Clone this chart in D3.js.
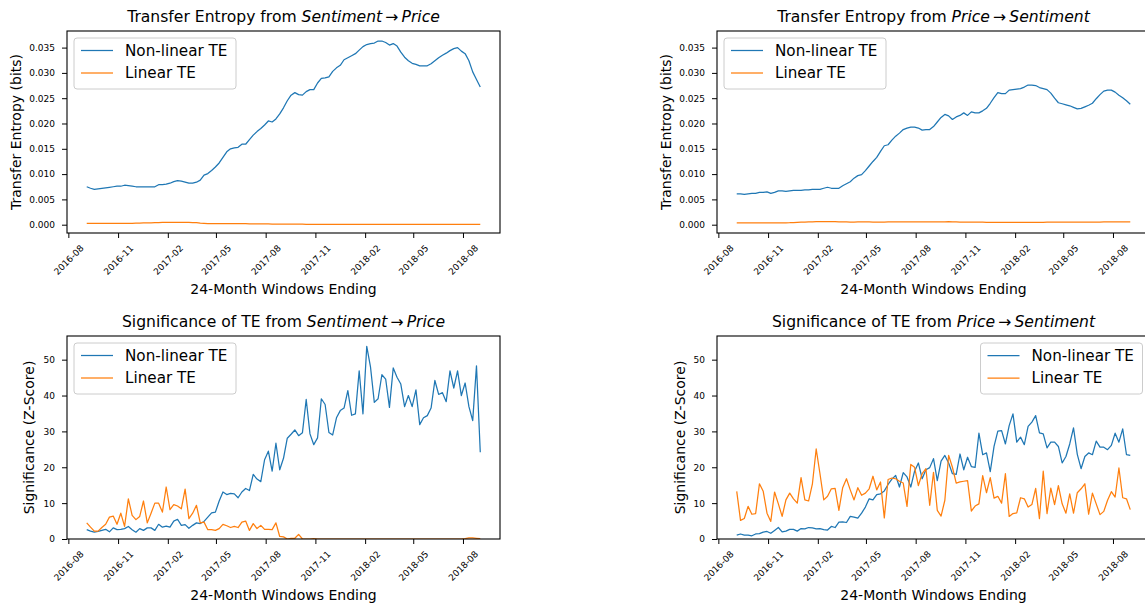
<!DOCTYPE html>
<html>
<head>
<meta charset="utf-8">
<script src="https://cdn.jsdelivr.net/npm/d3@7"></script>
<style>
  body { margin: 0; background: #fff; }
  svg { font-family: "DejaVu Sans", sans-serif; }
  .domain { display: none; }
  .tick line { stroke: #000; stroke-width: 1; }
</style>
</head>
<body>
<div id="chart"></div>
<script>
// weekly windows, first one ending 2016-09-04
var firstWindow = new Date(2016, 8, 4);
var nWeeks = 105;

var teNonlinSP = [0.0075,0.0072,0.0070,0.0071,0.0072,0.0073,0.0074,0.0075,0.0076,0.0076,
  0.0078,0.0077,0.0076,0.0075,0.0075,0.0075,0.0075,0.0075,0.0075,0.0079,
  0.0079,0.0080,0.0082,0.0085,0.0087,0.0086,0.0084,0.0082,0.0082,0.0084,
  0.0088,0.0098,0.0101,0.0107,0.0114,0.0122,0.0133,0.0144,0.0150,0.0152,
  0.0153,0.0159,0.0159,0.0168,0.0177,0.0184,0.0190,0.0197,0.0205,0.0203,
  0.0209,0.0219,0.0231,0.0245,0.0256,0.0261,0.0257,0.0256,0.0263,0.0267,
  0.0267,0.0280,0.0289,0.0290,0.0292,0.0303,0.0310,0.0315,0.0326,0.0330,
  0.0334,0.0338,0.0345,0.0352,0.0356,0.0358,0.0359,0.0363,0.0363,0.0360,
  0.0355,0.0358,0.0353,0.0341,0.0331,0.0324,0.0319,0.0317,0.0314,0.0314,
  0.0314,0.0318,0.0324,0.0330,0.0335,0.0339,0.0344,0.0348,0.0350,0.0343,
  0.0338,0.0324,0.0302,0.0287,0.0272];
var teLinSP = [0.00025,0.00025,0.00024,0.00025,0.00025,0.00026,0.00025,0.00025,0.00026,0.00026,
  0.00026,0.00026,0.00027,0.00030,0.00032,0.00034,0.00036,0.00038,0.00040,0.00042,
  0.00044,0.00045,0.00046,0.00046,0.00045,0.00045,0.00044,0.00044,0.00043,0.00040,
  0.00030,0.00026,0.00022,0.00021,0.00021,0.00020,0.00020,0.00020,0.00020,0.00020,
  0.00020,0.00019,0.00019,0.00018,0.00018,0.00017,0.00016,0.00015,0.00014,0.00013,
  0.00012,0.00011,0.00010,0.00010,0.00010,0.00009,0.00009,0.00009,0.00008,0.00008,
  0.00008,0.00008,0.00008,0.00008,0.00007,0.00007,0.00007,0.00007,0.00007,0.00007,
  0.00007,0.00007,0.00007,0.00007,0.00007,0.00007,0.00007,0.00007,0.00007,0.00007,
  0.00007,0.00007,0.00007,0.00007,0.00007,0.00007,0.00007,0.00007,0.00007,0.00007,
  0.00007,0.00007,0.00007,0.00007,0.00007,0.00007,0.00007,0.00007,0.00007,0.00007,
  0.00007,0.00007,0.00007,0.00007,0.00007];
var teNonlinPS = [0.0061,0.0061,0.0060,0.0061,0.0062,0.0062,0.0064,0.0064,0.0065,0.0062,
  0.0064,0.0067,0.0067,0.0066,0.0067,0.0068,0.0068,0.0068,0.0069,0.0069,
  0.0070,0.0070,0.0070,0.0072,0.0074,0.0072,0.0072,0.0072,0.0077,0.0081,
  0.0085,0.0092,0.0097,0.0099,0.0107,0.0116,0.0125,0.0133,0.0145,0.0156,
  0.0158,0.0167,0.0175,0.0181,0.0188,0.0191,0.0193,0.0193,0.0191,0.0187,
  0.0188,0.0188,0.0194,0.0203,0.0212,0.0218,0.0215,0.0208,0.0213,0.0216,
  0.0221,0.0216,0.0223,0.0221,0.0221,0.0225,0.0230,0.0240,0.0251,0.0261,
  0.0259,0.0259,0.0266,0.0267,0.0268,0.0269,0.0272,0.0276,0.0276,0.0275,
  0.0271,0.0269,0.0267,0.0260,0.0250,0.0241,0.0239,0.0237,0.0235,0.0232,
  0.0229,0.0230,0.0233,0.0236,0.0240,0.0249,0.0257,0.0264,0.0266,0.0266,
  0.0262,0.0256,0.0251,0.0245,0.0238];
var teLinPS = [0.00036,0.00036,0.00036,0.00037,0.00037,0.00037,0.00038,0.00038,0.00038,0.00038,
  0.00038,0.00038,0.00038,0.00038,0.00039,0.00042,0.00046,0.00050,0.00053,0.00056,
  0.00058,0.00059,0.00059,0.00059,0.00060,0.00060,0.00059,0.00058,0.00056,0.00054,
  0.00053,0.00053,0.00054,0.00055,0.00055,0.00054,0.00053,0.00052,0.00052,0.00053,
  0.00054,0.00055,0.00055,0.00055,0.00056,0.00057,0.00058,0.00058,0.00057,0.00056,
  0.00055,0.00054,0.00054,0.00055,0.00056,0.00058,0.00059,0.00058,0.00055,0.00053,
  0.00052,0.00052,0.00052,0.00051,0.00050,0.00049,0.00048,0.00047,0.00046,0.00046,
  0.00046,0.00046,0.00046,0.00046,0.00046,0.00046,0.00046,0.00046,0.00047,0.00047,
  0.00048,0.00048,0.00049,0.00049,0.00050,0.00050,0.00051,0.00051,0.00052,0.00052,
  0.00052,0.00051,0.00050,0.00049,0.00049,0.00050,0.00052,0.00054,0.00055,0.00056,
  0.00056,0.00056,0.00056,0.00056,0.00056];

var zNonlinSP = [2.6,2.2,1.9,2.1,2.4,2.7,2.0,3.1,2.6,2.7,
  2.9,3.5,2.6,1.9,2.9,2.4,3.1,3.1,2.4,4.1,
  3.3,3.6,3.3,5.0,5.5,3.8,4.0,3.0,3.8,4.5,
  4.3,4.9,6.1,7.3,7.5,10.6,13.1,12.4,12.7,12.6,
  11.5,13.1,14.1,13.5,18.0,16.7,16.0,22.1,24.5,18.9,
  26.7,19.3,22.5,28.1,29.2,30.4,28.8,29.6,38.9,29.3,
  26.3,28.2,39.1,37.5,29.7,29.0,33.8,35.8,36.5,41.4,
  34.5,34.9,46.9,34.9,53.7,47.9,38.1,39.1,45.8,44.6,
  36.7,47.7,45.1,43.2,36.9,40.0,36.9,41.6,31.9,33.8,
  34.4,36.5,44.2,40.3,40.8,38.3,46.9,42.1,46.9,40.0,
  43.5,36.9,33.0,48.3,24.2];
var zLinSP = [4.5,3.3,2.2,2.2,3.2,4.1,6.1,6.4,4.1,7.2,
  3.5,11.2,6.6,5.4,6.3,10.6,4.5,7.2,10.0,10.0,
  7.5,14.5,8.2,9.6,9.2,8.4,13.9,5.7,7.2,9.4,
  4.5,4.7,2.6,2.6,2.4,2.9,4.1,3.7,3.2,3.5,
  3.2,4.7,5.0,2.4,4.3,2.9,3.8,2.7,2.7,2.6,
  4.5,0.7,0.6,0.0,0.2,0.2,1.3,0.0,0.0,0.0,
  0.1,0.0,0.0,0.0,0.0,0.0,0.0,0.0,0.0,0.0,
  0.0,0.0,0.0,0.0,0.0,0.0,0.0,0.0,0.0,0.0,
  0.0,0.0,0.0,0.0,0.0,0.0,0.0,0.0,0.0,0.0,
  0.0,0.0,0.0,0.0,0.0,0.0,0.0,0.0,0.0,0.0,
  0.1,0.3,0.3,0.2,0.1];
var zNonlinPS = [1.1,1.4,1.1,1.1,0.9,1.4,1.5,1.9,2.1,1.6,
  2.4,3.2,2.0,2.2,2.7,2.7,2.2,2.9,2.8,3.2,
  3.1,2.8,2.9,2.6,2.5,3.5,3.2,4.7,4.8,4.6,
  6.3,6.1,5.8,7.2,8.9,11.2,10.9,12.4,12.6,13.4,
  15.2,16.7,17.7,14.5,18.5,17.3,14.5,18.9,21.2,16.8,
  19.3,19.9,22.4,16.3,21.7,23.3,21.2,18.2,18.0,23.7,
  19.3,22.8,20.2,20.0,29.5,23.5,24.0,18.8,25.8,30.1,
  30.2,26.5,31.6,34.9,27.0,28.4,26.3,31.4,32.6,34.4,
  29.6,29.3,25.4,27.0,27.0,25.8,21.2,23.0,26.5,31.0,
  23.6,19.6,23.0,24.0,23.5,27.3,25.6,25.6,24.9,26.1,
  29.5,27.0,30.7,23.5,23.3];
var zLinPS = [13.3,5.2,5.7,9.1,6.9,7.1,15.4,13.3,7.2,4.9,
  13.1,9.8,6.3,10.9,12.8,11.2,10.0,17.1,10.9,10.6,
  15.4,25.1,18.2,10.9,11.9,14.0,14.1,8.0,14.3,16.8,
  13.7,10.9,14.3,12.2,12.8,14.0,17.5,13.7,15.9,5.9,
  16.6,17.0,16.8,16.1,15.6,9.1,20.8,20.0,14.9,18.2,
  19.6,9.4,18.6,8.0,6.4,10.8,23.3,20.0,15.6,15.9,
  16.1,16.3,7.8,9.2,9.8,17.7,12.9,17.1,11.4,11.9,
  10.0,18.2,6.3,7.1,7.3,11.5,11.2,8.9,9.6,14.1,
  5.7,18.9,7.1,14.2,9.6,14.9,9.8,7.2,12.6,7.2,
  12.9,14.0,15.4,6.9,12.8,9.8,6.8,7.7,10.8,13.2,
  11.7,19.8,11.5,11.2,8.2];

var teTicks = [0, 0.005, 0.010, 0.015, 0.020, 0.025, 0.030, 0.035];
var zTicks = [0, 10, 20, 30, 40, 50];
var seriesNames = ["Non-linear TE", "Linear TE"];
var colors = ["#1f77b4", "#ff7f0e"];

var dates = d3.range(nWeeks).map(i => d3.timeDay.offset(firstWindow, 7 * i));
var formatMonth = d3.timeFormat("%Y-%m");

var svg = d3.select("#chart").append("svg")
    .attr("width", 1145)
    .attr("height", 608);

var panels = [
  {left: 67, top: 31, bottom: 233, from: "Sentiment", to: "Price", title: "Transfer Entropy from ",
   ylabel: "Transfer Entropy (bits)", series: [teNonlinSP, teLinSP], ydom: [-0.00164, 0.03828],
   ticks: teTicks, fmt: d3.format(".3f"), ylabOff: 51, legendRight: false},
  {left: 717, top: 31, bottom: 233, from: "Price", to: "Sentiment", title: "Transfer Entropy from ",
   ylabel: "Transfer Entropy (bits)", series: [teNonlinPS, teLinPS], ydom: [-0.00164, 0.03828],
   ticks: teTicks, fmt: d3.format(".3f"), ylabOff: 51, legendRight: false},
  {left: 67, top: 336, bottom: 539, from: "Sentiment", to: "Price", title: "Significance of TE from ",
   ylabel: "Significance (Z-Score)", series: [zNonlinSP, zLinSP], ydom: [0, 56.6],
   ticks: zTicks, fmt: d3.format("d"), ylabOff: 38, legendRight: false},
  {left: 717, top: 336, bottom: 539, from: "Price", to: "Sentiment", title: "Significance of TE from ",
   ylabel: "Significance (Z-Score)", series: [zNonlinPS, zLinPS], ydom: [0, 56.6],
   ticks: zTicks, fmt: d3.format("d"), ylabOff: 37, legendRight: true}
];

var panelWidth = 433;
var xTickDates = d3.range(9).map(i => new Date(2016, 7 + 3 * i, 1));

panels.forEach(function(p) {
  var g = svg.append("g").attr("transform", "translate(" + p.left + "," + p.top + ")");
  var h = p.bottom - p.top;

  var x = d3.scaleTime()
      .domain([d3.timeHour.offset(dates[0], -36.5 * 24), d3.timeHour.offset(dates[nWeeks - 1], 36.5 * 24)])
      .range([0, panelWidth]);
  var y = d3.scaleLinear().domain(p.ydom).range([h, 0]);

  g.append("clipPath").attr("id", "clip" + p.left + p.top)
    .append("rect").attr("width", panelWidth).attr("height", h);

  var line = d3.line()
      .x((d, i) => x(dates[i]))
      .y(d => y(d));

  p.series.forEach(function(s, k) {
    g.append("path")
      .attr("clip-path", "url(#clip" + p.left + p.top + ")")
      .attr("fill", "none")
      .attr("stroke", colors[k])
      .attr("stroke-width", 1.25)
      .attr("stroke-linejoin", "round")
      .attr("d", line(s));
  });

  // axes
  var xAxis = g.append("g")
    .attr("transform", "translate(0," + h + ")")
    .call(d3.axisBottom(x).tickValues(xTickDates).tickFormat(formatMonth).tickSize(5).tickSizeOuter(0));
  xAxis.attr("font-family", null).attr("font-size", null);
  xAxis.selectAll(".tick text")
    .attr("y", 0).attr("dy", 0)
    .attr("text-anchor", "middle")
    .attr("dominant-baseline", "central")
    .attr("transform", "translate(0,27) rotate(-45)")
    .style("font-size", "9px")
    .style("fill", "#000");

  var yAxis = g.append("g")
    .call(d3.axisLeft(y).tickValues(p.ticks).tickFormat(p.fmt).tickSize(5).tickPadding(7).tickSizeOuter(0));
  yAxis.attr("font-family", null).attr("font-size", null);
  yAxis.selectAll(".tick text")
    .style("font-size", "9px")
    .style("fill", "#000");

  // frame
  g.append("rect")
    .attr("width", panelWidth).attr("height", h)
    .attr("fill", "none").attr("stroke", "#000").attr("stroke-width", 1.1);

  // title
  var t = g.append("text")
    .attr("x", panelWidth / 2).attr("y", -9)
    .attr("text-anchor", "middle")
    .style("font-size", "15.6px");
  t.append("tspan").text(p.title);
  t.append("tspan").style("font-style", "italic").text(p.from);
  t.append("tspan").text("\u2009\u2192\u2009");
  t.append("tspan").style("font-style", "italic").text(p.to);

  g.append("text")
    .attr("x", panelWidth / 2).attr("y", h + 61)
    .attr("text-anchor", "middle")
    .style("font-size", "14px")
    .text("24-Month Windows Ending");

  g.append("text")
    .attr("transform", "translate(" + (-p.ylabOff) + "," + (h / 2) + ") rotate(-90)")
    .attr("text-anchor", "middle")
    .attr("dominant-baseline", "central")
    .style("font-size", "14px")
    .text(p.ylabel);

  // legend
  var lw = 162, lh = 51;
  var lx = p.legendRight ? panelWidth - 7.5 - lw : 7;
  var leg = g.append("g").attr("transform", "translate(" + lx + ",7)");
  leg.append("rect")
    .attr("width", lw).attr("height", lh).attr("rx", 3)
    .attr("fill", "#fff").attr("fill-opacity", 0.8)
    .attr("stroke", "#ccc").attr("stroke-width", 1);
  seriesNames.forEach(function(name, k) {
    var ly = 12.5 + k * 22.5;
    leg.append("line")
      .attr("x1", 7).attr("x2", 39).attr("y1", ly).attr("y2", ly)
      .attr("stroke", colors[k]).attr("stroke-width", 1.25);
    leg.append("text")
      .attr("x", 51).attr("y", ly)
      .attr("dominant-baseline", "central")
      .style("font-size", "15.2px")
      .text(name);
  });
});
</script>
</body>
</html>
